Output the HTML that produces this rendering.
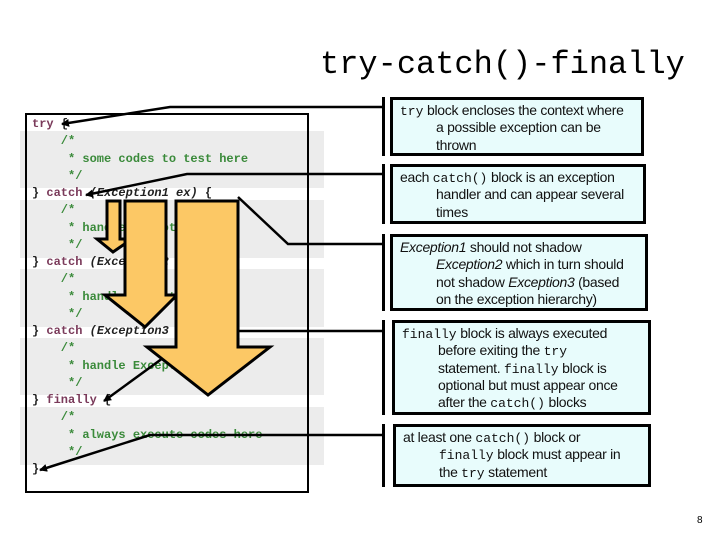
<!DOCTYPE html>
<html><head><style>
body{margin:0;width:720px;height:540px;background:#fff;position:relative;overflow:hidden;font-family:"Liberation Sans",sans-serif}
.t{position:absolute;left:320px;top:46px;font:32px "Liberation Mono",monospace;color:#000}
.band{position:absolute;left:20px;width:304px;background:#ececec}
.code{position:absolute;left:25px;top:113px;width:280px;height:376px;border:2px solid #000}
.ln{position:absolute;font:bold 12px "Liberation Mono",monospace;white-space:pre;line-height:14px}
.k{color:#7a3a5a}.c{color:#3a8a3a}.i{font-style:italic;color:#222}.b{color:#222}
.box{position:absolute;left:390px;background:#e8fcfc;border:3px solid #000;box-sizing:border-box;font-size:14px;padding:2px 0 0 7px;color:#111;white-space:nowrap;letter-spacing:-0.3px;overflow:hidden}
.box div{padding-left:36px;height:17.3px;line-height:17.3px}
.box div:first-child{padding-left:0}
.m{font-family:"Liberation Mono",monospace;font-size:13px;letter-spacing:0;line-height:1}
.vl{position:absolute;left:382px;width:3px;background:#000}
</style></head><body>
<div class="t">try-catch()-finally</div>
<div class="band" style="top:131px;height:57px"></div>
<div class="band" style="top:200px;height:58px"></div>
<div class="band" style="top:269px;height:58px"></div>
<div class="band" style="top:338px;height:57px"></div>
<div class="band" style="top:407px;height:58px"></div>
<div class="code"></div>
<div class="ln" style="left:32px;top:117px"><span class="k">try</span> <span class="b">{</span></div>
<div class="ln c" style="left:32px;top:134px">    /*</div>
<div class="ln c" style="left:32px;top:152px">     * some codes to test here</div>
<div class="ln c" style="left:32px;top:169px">     */</div>
<div class="ln" style="left:32px;top:186px"><span class="b">}</span> <span class="k">catch</span> <span class="i">(Exception1 ex)</span> <span class="b">{</span></div>
<div class="ln c" style="left:32px;top:203px">    /*</div>
<div class="ln c" style="left:32px;top:221px">     * handle Exception1</div>
<div class="ln c" style="left:32px;top:238px">     */</div>
<div class="ln" style="left:32px;top:255px"><span class="b">}</span> <span class="k">catch</span> <span class="i">(Exception2 ex)</span></div>
<div class="ln c" style="left:32px;top:272px">    /*</div>
<div class="ln c" style="left:32px;top:290px">     * handle Exception2</div>
<div class="ln c" style="left:32px;top:307px">     */</div>
<div class="ln" style="left:32px;top:324px"><span class="b">}</span> <span class="k">catch</span> <span class="i">(Exception3 ex)</span></div>
<div class="ln c" style="left:32px;top:341px">    /*</div>
<div class="ln c" style="left:32px;top:359px">     * handle Exception3</div>
<div class="ln c" style="left:32px;top:376px">     */</div>
<div class="ln" style="left:32px;top:393px"><span class="b">}</span> <span class="k">finally</span> <span class="b">{</span></div>
<div class="ln c" style="left:32px;top:410px">    /*</div>
<div class="ln c" style="left:32px;top:428px">     * always execute codes here</div>
<div class="ln c" style="left:32px;top:445px">     */</div>
<div class="ln" style="left:32px;top:462px"><span class="b">}</span></div>

<svg width="720" height="540" style="position:absolute;left:0;top:0">
<defs><marker id="a" markerWidth="8" markerHeight="8" refX="7" refY="4" orient="auto" markerUnits="userSpaceOnUse"><path d="M0,0 L8,4 L0,8z" fill="#000"/></marker></defs>
<g fill="none" stroke="#000" stroke-width="2.5">
<polyline points="383,107 170,107 62,124" marker-end="url(#a)"/>
<polyline points="383,174 187,174 86,195" marker-end="url(#a)"/>
<polyline points="383,244 288,244 238,197"/>
<polyline points="383,331 200,331 104,401" marker-end="url(#a)"/>
</g>
<g fill="#fcc865" stroke="#000" stroke-width="3" stroke-linejoin="miter">
<path d="M107,201 H120 V239 H132 L113,252 L97,239 H107 Z"/>
<path d="M125,201 H166 V295 H177 L145,327 L105,295 H125 Z"/>
<path d="M176,201 H238 V347 H270 L208,395 L147,347 H176 Z"/>
</g>
<polyline points="383,435 150,435 40,470" fill="none" stroke="#000" stroke-width="2.5" marker-end="url(#a)"/>
</svg>
<div class="vl" style="top:97px;height:59px"></div>
<div class="vl" style="top:164px;height:60px"></div>
<div class="vl" style="top:234px;height:77px"></div>
<div class="vl" style="top:320px;height:95px"></div>
<div class="vl" style="top:424px;height:63px"></div>
<div class="box" style="top:97px;width:254px;height:59px"><div><span class="m">try</span> block encloses the context where</div><div>a possible exception can be</div><div>thrown</div></div>
<div class="box" style="top:164px;width:256px;height:60px"><div>each <span class="m">catch()</span> block is an exception</div><div>handler and can appear several</div><div>times</div></div>
<div class="box" style="top:234px;width:258px;height:77px"><div><i>Exception1</i> should not shadow</div><div><i>Exception2</i> which in turn should</div><div>not shadow <i>Exception3</i> (based</div><div>on the exception hierarchy)</div></div>
<div class="box" style="top:320px;width:259px;height:95px;left:392px"><div><span class="m">finally</span> block is always executed</div><div>before exiting the <span class="m">try</span></div><div>statement. <span class="m">finally</span> block is</div><div>optional but must appear once</div><div>after the <span class="m">catch()</span> blocks</div></div>
<div class="box" style="top:424px;width:258px;height:63px;left:393px"><div>at least one <span class="m">catch()</span> block or</div><div><span class="m">finally</span> block must appear in</div><div>the <span class="m">try</span> statement</div></div>
<div style="position:absolute;left:697px;top:515px;font-size:10px">8</div>
</body></html>
